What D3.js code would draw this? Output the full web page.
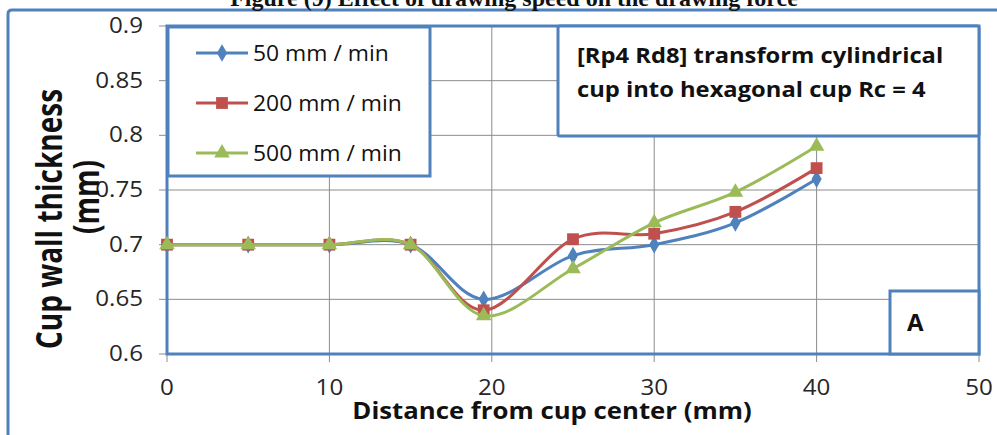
<!DOCTYPE html>
<html>
<head>
<meta charset="utf-8">
<script src="https://cdn.jsdelivr.net/npm/d3@7"></script>
<style>
  body { margin: 0; background: #fff; }
  svg { display: block; }
  text { font-family: "Open Sans", "Noto Sans", sans-serif; }
</style>
</head>
<body>
<svg id="chart" width="997" height="435"></svg>
<script>
// data
var distance = [0, 5, 10, 15, 19.5, 25, 30, 35, 40];
var speed50  = [0.70, 0.70, 0.70, 0.70, 0.650, 0.690, 0.700, 0.720, 0.760];
var speed200 = [0.70, 0.70, 0.70, 0.70, 0.640, 0.705, 0.710, 0.730, 0.770];
var speed500 = [0.70, 0.70, 0.70, 0.70, 0.635, 0.678, 0.720, 0.748, 0.790];
var seriesNames = ["50 mm / min", "200 mm / min", "500 mm / min"];
var xTicks = [0, 10, 20, 30, 40, 50];
var yTicks = [0.6, 0.65, 0.7, 0.75, 0.8, 0.85, 0.9];

var blue = "#4F81BD", red = "#C0504D", green = "#9BBB59";
var frame = "#4F81BD", grid = "#8c8c8c";

var svg = d3.select("#chart");

var x = d3.scaleLinear().domain([0, 50]).range([167, 979]);
var y = d3.scaleLinear().domain([0.6, 0.9]).range([354, 26]);

// outer chart border (only top-left part visible)
svg.append("path")
    .attr("d", "M8,440 L8,14 Q8,10 12,10 L1000,10")
    .attr("fill", "none")
    .attr("stroke", frame)
    .attr("stroke-width", 3);

// figure caption cut off at the top
svg.append("text")
    .attr("x", 514).attr("y", 6)
    .attr("text-anchor", "middle")
    .style("font-family", "'Liberation Serif', serif")
    .style("font-weight", "bold")
    .style("font-size", "24px")
    .attr("fill", "#111")
    .text("Figure (9) Effect of drawing speed on the drawing force");

// grid lines + tick marks
svg.append("g").selectAll("line")
    .data(yTicks).enter().append("line")
    .attr("x1", 159).attr("x2", x(50))
    .attr("y1", d => y(d)).attr("y2", d => y(d))
    .attr("stroke", grid).attr("stroke-width", 1);

svg.append("g").selectAll("line")
    .data(xTicks).enter().append("line")
    .attr("x1", d => x(d)).attr("x2", d => x(d))
    .attr("y1", y(0.9)).attr("y2", y(0.6) + 8)
    .attr("stroke", grid).attr("stroke-width", 1);

// plot area border
svg.append("rect")
    .attr("x", x(0)).attr("y", y(0.9))
    .attr("width", x(50) - x(0)).attr("height", y(0.6) - y(0.9))
    .attr("fill", "none")
    .attr("stroke", frame).attr("stroke-width", 3);

// tick labels
var sx = 1.15;
svg.append("g").selectAll("text")
    .data(yTicks).enter().append("text")
    .attr("transform", d => "translate(143," + (y(d) + 7) + ") scale(" + sx + ",1)")
    .attr("text-anchor", "end")
    .style("font-size", "21px")
    .attr("fill", "#262626")
    .text(d => d3.format("")(+d.toFixed(2)));

svg.append("g").selectAll("text")
    .data(xTicks).enter().append("text")
    .attr("transform", d => "translate(" + x(d) + ",395) scale(" + sx + ",1)")
    .attr("text-anchor", "middle")
    .style("font-size", "21px")
    .attr("fill", "#262626")
    .text(d => d);

// axis titles
svg.append("text")
    .attr("transform", "translate(552,419) scale(1.12,1)")
    .attr("text-anchor", "middle")
    .style("font-size", "23px")
    .style("font-weight", "bold")
    .attr("fill", "#111")
    .text("Distance from cup center (mm)");

svg.append("text")
    .attr("transform", "translate(62,219) scale(1.3,1) rotate(-90)")
    .attr("text-anchor", "middle")
    .style("font-size", "28px")
    .style("font-weight", "bold")
    .attr("fill", "#111")
    .text("Cup wall thickness");

svg.append("text")
    .attr("transform", "translate(99,197) scale(1.3,1) rotate(-90)")
    .attr("text-anchor", "middle")
    .style("font-size", "28px")
    .style("font-weight", "bold")
    .attr("fill", "#111")
    .text("(mm)");

// series
var series = [
    { name: seriesNames[0], values: speed50,  color: blue,  shape: d3.symbolDiamond, size: 90 },
    { name: seriesNames[1], values: speed200, color: red,   shape: d3.symbolSquare,  size: 140 },
    { name: seriesNames[2], values: speed500, color: green, shape: d3.symbolTriangle, size: 105 }
];

var line = d3.line()
    .x(d => x(d[0]))
    .y(d => y(d[1]))
    .curve(d3.curveCatmullRom.alpha(0));

series.forEach(function(s) {
    var pts = distance.map((d, i) => [d, s.values[i]]);
    svg.append("path")
        .datum(pts)
        .attr("d", line)
        .attr("fill", "none")
        .attr("stroke", s.color)
        .attr("stroke-width", 3)
        .attr("stroke-linejoin", "round");
    svg.append("g").selectAll("path")
        .data(pts).enter().append("path")
        .attr("d", d3.symbol().type(s.shape).size(s.size))
        .attr("transform", d => "translate(" + x(d[0]) + "," + y(d[1]) + ")")
        .attr("fill", s.color);
});

// legend box
svg.append("rect")
    .attr("x", 168).attr("y", 27).attr("width", 262).attr("height", 149)
    .attr("fill", "#fff").attr("stroke", frame).attr("stroke-width", 3);

var legend = svg.append("g").selectAll("g")
    .data(series).enter().append("g")
    .attr("transform", (d, i) => "translate(196," + (53 + i * 50) + ")");

legend.append("line")
    .attr("x1", 0).attr("x2", 52)
    .attr("stroke", d => d.color).attr("stroke-width", 3);
legend.append("path")
    .attr("d", d => d3.symbol().type(d.shape).size(d.size)())
    .attr("transform", "translate(26,0)")
    .attr("fill", d => d.color);
legend.append("text")
    .attr("transform", "translate(57,8) scale(1.09,1)")
    .style("font-size", "21px")
    .attr("fill", "#111")
    .text(d => d.name);

// annotation box
svg.append("rect")
    .attr("x", 558).attr("y", 26).attr("width", 421).attr("height", 110)
    .attr("rx", 2)
    .attr("fill", "#fff").attr("stroke", frame).attr("stroke-width", 3);

var note = svg.append("text")
    .attr("transform", "translate(577,0) scale(1.08,1)")
    .style("font-size", "22px")
    .style("font-weight", "bold")
    .attr("fill", "#111");
note.append("tspan").attr("x", 0).attr("y", 63).text("[Rp4 Rd8] transform cylindrical");
note.append("tspan").attr("x", 0).attr("y", 97).text("cup into hexagonal cup Rc = 4");

// panel label box
svg.append("rect")
    .attr("x", 890).attr("y", 291).attr("width", 89).attr("height", 63)
    .attr("fill", "#fff").attr("stroke", frame).attr("stroke-width", 3);

svg.append("text")
    .attr("x", 907).attr("y", 331)
    .style("font-size", "24px")
    .style("font-weight", "bold")
    .attr("fill", "#111")
    .text("A");
</script>
</body>
</html>
